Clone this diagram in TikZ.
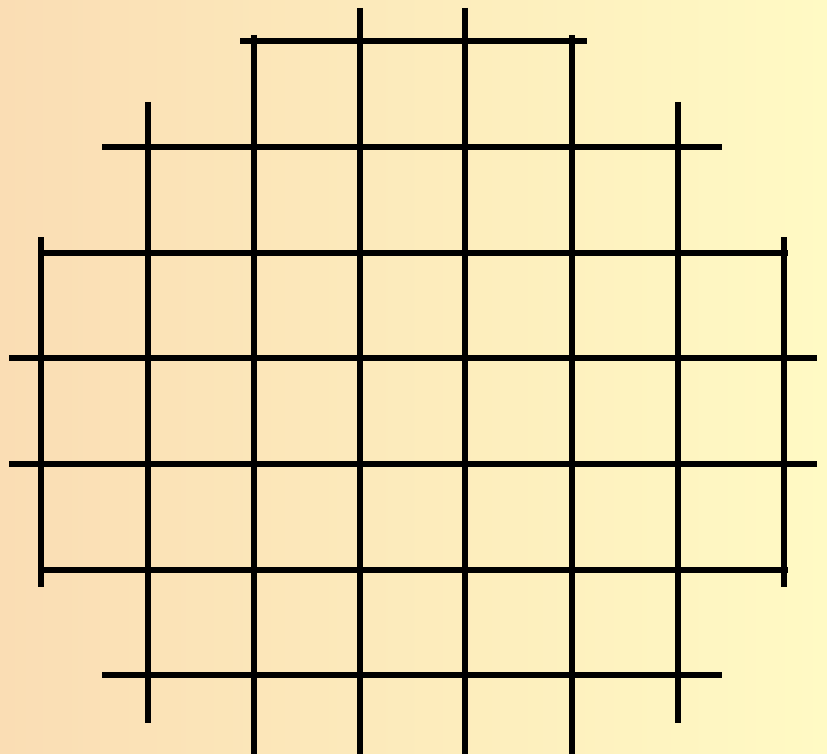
\documentclass[tikz,border=0pt]{standalone}
\begin{document}
\begin{tikzpicture}[x=1pt,y=-1pt,
  gridline/.style={line width=6.3pt,line cap=butt,black}]
\shade[left color={rgb,255:red,250;green,221;blue,180},middle color={rgb,255:red,255;green,243;blue,193},right color={rgb,255:red,255;green,250;blue,196}]
  (0,0) rectangle (827,754);
\useasboundingbox (0,0) rectangle (827,754);
% vertical lines
\draw[gridline] (41,237) -- (41,587);
\draw[gridline] (148,102) -- (148,723);
\draw[gridline] (254,35) -- (254,754);
\draw[gridline] (360,8) -- (360,754);
\draw[gridline] (465,8) -- (465,754);
\draw[gridline] (572,35) -- (572,754);
\draw[gridline] (678,102) -- (678,723);
\draw[gridline] (784,237) -- (784,587);
% horizontal lines
\draw[gridline] (240,41) -- (587,41);
\draw[gridline] (102,147) -- (722,147);
\draw[gridline] (38,253) -- (788,253);
\draw[gridline] (9,358) -- (817,358);
\draw[gridline] (9,464) -- (817,464);
\draw[gridline] (38,570) -- (788,570);
\draw[gridline] (102,675) -- (722,675);
\end{tikzpicture}
\end{document}
